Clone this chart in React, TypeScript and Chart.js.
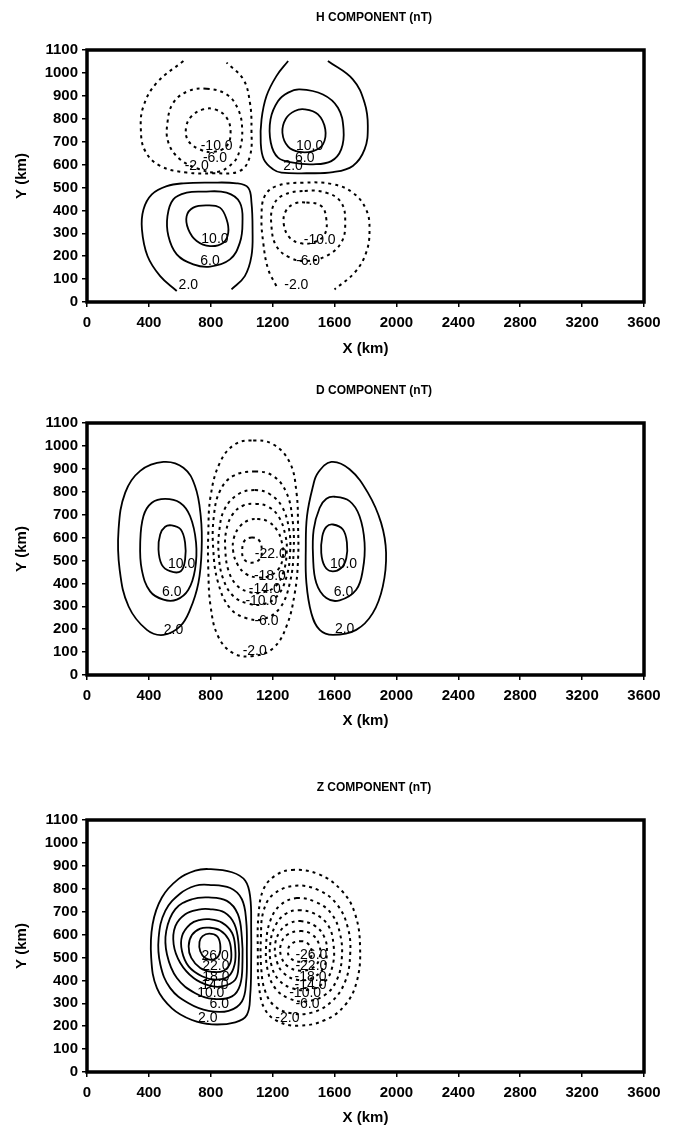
import { useEffect, useRef } from 'react';
import { Chart, registerables } from 'chart.js';

Chart.register(...registerables);

type Pt = [number, number];

interface Contour {
  level: number;
  pts: Pt[];
  closed: boolean;
  label: Pt;
}

// Axis ticks (km)
const X_TICKS = [0, 400, 800, 1200, 1600, 2000, 2400, 2800, 3200, 3600];
const Y_TICKS = [0, 100, 200, 300, 400, 500, 600, 700, 800, 900, 1000, 1100];

// ---------- H component ----------
// upper-left negative cell
const hUL_n2: Pt[] = [[623, 1052], [451, 957], [365, 855], [348, 754], [376, 659], [473, 594], [644, 565], [816, 562], [988, 572], [1053, 637], [1063, 754], [1053, 870], [1010, 972], [902, 1045]];
const hUL_n6: Pt[] = [[773, 931], [902, 906], [977, 841], [1003, 754], [988, 666], [945, 608], [838, 567], [730, 579], [601, 623], [526, 696], [520, 783], [558, 870], [655, 921]];
const hUL_n10: Pt[] = [[827, 841], [902, 805], [928, 739], [902, 681], [816, 655], [730, 666], [655, 703], [640, 761], [677, 812], [752, 841]];
// upper-right positive cell
const hUR_p2: Pt[] = [[1300, 1052], [1224, 986], [1160, 899], [1128, 797], [1123, 695], [1143, 623], [1203, 579], [1257, 565], [1418, 562], [1590, 567], [1718, 594], [1794, 666], [1815, 768], [1794, 870], [1718, 972], [1557, 1052]];
const hUR_p6: Pt[] = [[1375, 928], [1525, 906], [1622, 848], [1658, 754], [1643, 666], [1579, 615], [1461, 601], [1332, 608], [1235, 630], [1188, 695], [1186, 797], [1235, 877], [1300, 914]];
const hUR_p10: Pt[] = [[1407, 841], [1493, 819], [1540, 754], [1525, 688], [1461, 659], [1375, 655], [1300, 678], [1263, 739], [1285, 800], [1343, 834]];
// lower-left positive cell
const hLL_p2: Pt[] = [[580, 48], [473, 113], [391, 201], [355, 317], [365, 404], [419, 470], [516, 506], [623, 518], [795, 521], [967, 518], [1042, 499], [1063, 434], [1070, 317], [1063, 201], [1020, 113], [934, 55]];
const hLL_p6: Pt[] = [[752, 482], [902, 477], [988, 434], [1005, 346], [988, 259], [924, 186], [795, 154], [687, 164], [580, 208], [526, 288], [520, 375], [558, 448], [644, 477]];
const hLL_p10: Pt[] = [[773, 422], [859, 412], [902, 361], [913, 303], [881, 259], [795, 244], [709, 266], [655, 317], [644, 375], [687, 412]];
// lower-right negative cell
const hLR_n2: Pt[] = [[1224, 70], [1171, 143], [1139, 259], [1128, 375], [1149, 463], [1224, 506], [1396, 521], [1590, 514], [1718, 477], [1804, 404], [1826, 317], [1804, 215], [1729, 128], [1600, 55]];
const hLR_n6: Pt[] = [[1407, 485], [1547, 477], [1643, 434], [1669, 346], [1643, 259], [1547, 201], [1418, 179], [1310, 194], [1224, 244], [1192, 332], [1203, 419], [1267, 466]];
const hLR_n10: Pt[] = [[1418, 434], [1514, 419], [1547, 361], [1536, 295], [1471, 262], [1385, 256], [1310, 281], [1272, 339], [1285, 397], [1343, 430]];

// ---------- D component ----------
// left positive cell
const dL_p2: Pt[] = [[494, 930], [623, 905], [698, 825], [735, 694], [741, 548], [720, 402], [666, 285], [601, 212], [494, 175], [387, 197], [269, 299], [211, 460], [204, 635], [247, 796], [344, 891]];
const dL_p6: Pt[] = [[505, 769], [601, 752], [666, 694], [705, 577], [698, 460], [655, 372], [580, 329], [494, 329], [408, 365], [354, 460], [344, 577], [365, 694], [419, 752]];
const dL_p10: Pt[] = [[548, 653], [606, 635], [634, 577], [634, 504], [606, 453], [537, 453], [483, 482], [462, 548], [473, 613], [505, 647]];
// right positive cell
const dR_p2: Pt[] = [[1579, 930], [1697, 898], [1815, 796], [1901, 664], [1933, 533], [1912, 387], [1847, 270], [1740, 197], [1590, 175], [1504, 197], [1450, 270], [1418, 402], [1414, 548], [1422, 694], [1461, 825], [1493, 883]];
const dR_p6: Pt[] = [[1600, 778], [1697, 759], [1761, 694], [1794, 577], [1783, 460], [1740, 372], [1633, 326], [1547, 336], [1482, 402], [1461, 518], [1465, 635], [1504, 730], [1547, 769]];
const dR_p10: Pt[] = [[1590, 657], [1654, 635], [1680, 577], [1676, 511], [1643, 467], [1579, 453], [1536, 475], [1514, 533], [1521, 606], [1547, 647]];
// central negative cell
const dM_n2: Pt[] = [[1074, 1024], [1203, 1007], [1311, 927], [1354, 796], [1364, 650], [1364, 504], [1343, 358], [1289, 212], [1203, 117], [1074, 83], [945, 95], [848, 168], [799, 299], [784, 460], [784, 621], [799, 781], [859, 927], [956, 1007]];
const dM_n6: Pt[] = [[1085, 888], [1203, 869], [1289, 796], [1328, 679], [1336, 548], [1311, 402], [1246, 292], [1139, 244], [1031, 248], [924, 292], [848, 402], [816, 548], [820, 694], [859, 803], [945, 869]];
const dM_n10: Pt[] = [[1085, 807], [1180, 790], [1260, 735], [1305, 640], [1313, 540], [1290, 430], [1230, 345], [1140, 309], [1040, 312], [945, 345], [880, 420], [852, 520], [855, 630], [890, 725], [980, 790]];
const dM_n14: Pt[] = [[1090, 747], [1170, 735], [1240, 690], [1282, 610], [1291, 540], [1270, 450], [1215, 385], [1130, 360], [1050, 362], [970, 390], [915, 455], [894, 545], [900, 630], [940, 700], [1010, 740]];
const dM_n18: Pt[] = [[1100, 681], [1170, 670], [1230, 630], [1262, 570], [1265, 510], [1235, 460], [1170, 430], [1100, 426], [1030, 440], [975, 480], [945, 540], [950, 600], [990, 650], [1045, 676]];
const dM_n22: Pt[] = [[1065, 600], [1110, 590], [1130, 545], [1115, 505], [1065, 490], [1015, 505], [1003, 545], [1020, 588]];

// ---------- Z component ----------
// positive cell
const zP_2: Pt[] = [[786, 886], [937, 872], [1023, 835], [1055, 762], [1061, 630], [1061, 483], [1055, 337], [1033, 249], [958, 217], [807, 208], [678, 227], [549, 278], [452, 366], [415, 498], [424, 645], [484, 762], [592, 843], [700, 879]];
const zP_6: Pt[] = [[786, 817], [926, 803], [1001, 754], [1029, 659], [1033, 527], [1029, 396], [1001, 308], [915, 267], [786, 267], [657, 300], [538, 366], [474, 469], [463, 586], [506, 703], [603, 779], [700, 813]];
const zP_10: Pt[] = [[786, 762], [904, 747], [975, 689], [1001, 586], [1005, 483], [990, 381], [937, 330], [818, 319], [700, 344], [581, 410], [517, 513], [512, 615], [571, 711], [678, 754]];
const zP_14: Pt[] = [[790, 711], [889, 696], [953, 645], [980, 557], [980, 469], [958, 403], [872, 374], [786, 378], [689, 410], [603, 476], [560, 557], [571, 637], [635, 689], [721, 709]];
const zP_18: Pt[] = [[790, 667], [872, 652], [937, 608], [958, 542], [954, 469], [915, 418], [829, 403], [743, 418], [657, 461], [614, 527], [614, 593], [667, 645], [732, 664]];
const zP_22: Pt[] = [[790, 630], [861, 618], [915, 579], [932, 527], [926, 476], [883, 442], [807, 437], [732, 454], [674, 498], [657, 549], [678, 598], [732, 626]];
const zP_26: Pt[] = [[790, 604], [840, 593], [861, 557], [855, 513], [818, 491], [764, 498], [732, 527], [727, 568], [747, 593]];
// negative cell
const zN_2: Pt[] = [[1324, 882], [1496, 864], [1647, 791], [1733, 689], [1765, 542], [1744, 396], [1669, 293], [1539, 227], [1367, 202], [1238, 220], [1152, 271], [1113, 366], [1104, 527], [1109, 689], [1141, 798], [1216, 857]];
const zN_6: Pt[] = [[1346, 813], [1496, 794], [1615, 732], [1686, 630], [1701, 513], [1669, 396], [1582, 308], [1453, 259], [1324, 256], [1216, 286], [1152, 352], [1126, 454], [1124, 586], [1141, 703], [1206, 776]];
const zN_10: Pt[] = [[1356, 759], [1485, 740], [1582, 689], [1636, 601], [1647, 498], [1615, 403], [1539, 337], [1410, 308], [1303, 322], [1216, 366], [1167, 447], [1158, 557], [1184, 659], [1249, 728]];
const zN_14: Pt[] = [[1367, 706], [1475, 689], [1561, 637], [1593, 557], [1589, 469], [1539, 396], [1432, 359], [1324, 366], [1238, 403], [1191, 469], [1184, 557], [1216, 637], [1281, 689]];
const zN_18: Pt[] = [[1378, 659], [1475, 637], [1536, 586], [1550, 520], [1528, 454], [1453, 410], [1356, 403], [1270, 432], [1227, 483], [1216, 557], [1249, 615], [1303, 647]];
const zN_22: Pt[] = [[1378, 615], [1453, 601], [1500, 557], [1503, 498], [1464, 457], [1378, 442], [1298, 461], [1255, 505], [1253, 557], [1292, 598]];
const zN_26: Pt[] = [[1378, 571], [1427, 561], [1453, 527], [1438, 494], [1378, 481], [1320, 494], [1298, 527], [1320, 559]];

const H_CONTOURS: Contour[] = [
  { level: -2, pts: hUL_n2, closed: false, label: [709, 594] },
  { level: -6, pts: hUL_n6, closed: true, label: [827, 626] },
  { level: -10, pts: hUL_n10, closed: true, label: [838, 681] },
  { level: 2, pts: hUR_p2, closed: false, label: [1332, 594] },
  { level: 6, pts: hUR_p6, closed: true, label: [1407, 630] },
  { level: 10, pts: hUR_p10, closed: true, label: [1439, 681] },
  { level: 2, pts: hLL_p2, closed: false, label: [655, 73] },
  { level: 6, pts: hLL_p6, closed: true, label: [795, 179] },
  { level: 10, pts: hLL_p10, closed: true, label: [827, 274] },
  { level: -2, pts: hLR_n2, closed: false, label: [1353, 73] },
  { level: -6, pts: hLR_n6, closed: true, label: [1429, 179] },
  { level: -10, pts: hLR_n10, closed: true, label: [1504, 271] },
];

const D_CONTOURS: Contour[] = [
  { level: 2, pts: dL_p2, closed: true, label: [559, 197] },
  { level: 6, pts: dL_p6, closed: true, label: [548, 361] },
  { level: 10, pts: dL_p10, closed: true, label: [612, 482] },
  { level: 2, pts: dR_p2, closed: true, label: [1665, 200] },
  { level: 6, pts: dR_p6, closed: true, label: [1658, 361] },
  { level: 10, pts: dR_p10, closed: true, label: [1658, 482] },
  { level: -2, pts: dM_n2, closed: true, label: [1084, 105] },
  { level: -6, pts: dM_n6, closed: true, label: [1160, 236] },
  { level: -10, pts: dM_n10, closed: true, label: [1127, 324] },
  { level: -14, pts: dM_n14, closed: true, label: [1149, 375] },
  { level: -18, pts: dM_n18, closed: true, label: [1182, 433] },
  { level: -22, pts: dM_n22, closed: true, label: [1188, 527] },
];

const Z_CONTOURS: Contour[] = [
  { level: 2, pts: zP_2, closed: true, label: [780, 234] },
  { level: 6, pts: zP_6, closed: true, label: [855, 295] },
  { level: 10, pts: zP_10, closed: true, label: [800, 344] },
  { level: 14, pts: zP_14, closed: true, label: [827, 381] },
  { level: 18, pts: zP_18, closed: true, label: [833, 414] },
  { level: 22, pts: zP_22, closed: true, label: [833, 460] },
  { level: 26, pts: zP_26, closed: true, label: [828, 505] },
  { level: -2, pts: zN_2, closed: true, label: [1295, 235] },
  { level: -6, pts: zN_6, closed: true, label: [1425, 295] },
  { level: -10, pts: zN_10, closed: true, label: [1410, 343] },
  { level: -14, pts: zN_14, closed: true, label: [1445, 380] },
  { level: -18, pts: zN_18, closed: true, label: [1445, 415] },
  { level: -22, pts: zN_22, closed: true, label: [1450, 460] },
  { level: -26, pts: zN_26, closed: true, label: [1450, 510] },
];

const FONT_FAMILY = '"Liberation Sans", Arial, Helvetica, sans-serif';
const WIDTH = 676;
const PLOT_LEFT = 87;
const PLOT_RIGHT = 644;
const TITLE_X = 374;

// Closed rings get one wrap-around point on each end so the spline is smooth
// through the seam; the two wrap segments are drawn transparent.
function toDataset(c: Contour) {
  const n = c.pts.length;
  const seq: Pt[] = c.closed ? [c.pts[n - 1], ...c.pts, c.pts[0], c.pts[1]] : c.pts;
  const last = seq.length - 1;
  const negative = c.level < 0;
  return {
    data: seq.map(([x, y]) => ({ x, y })),
    showLine: true,
    fill: false,
    borderColor: '#000',
    borderWidth: negative ? 2 : 1.8,
    borderDash: negative ? [3, 4] : [],
    pointRadius: 0,
    pointHoverRadius: 0,
    tension: 0.4,
    segment: c.closed
      ? {
          borderColor: (ctx: any) =>
            ctx.p0DataIndex === 0 || ctx.p1DataIndex === last ? 'rgba(0,0,0,0)' : undefined,
        }
      : undefined,
  };
}

interface PanelProps {
  top: number;
  height: number;
  plotTop: number;
  plotBottom: number;
  title: string;
  contours: Contour[];
}

function Panel({ top, height, plotTop, plotBottom, title, contours }: PanelProps) {
  const ref = useRef<HTMLCanvasElement | null>(null);

  useEffect(() => {
    if (!ref.current) return;
    const xScaleHeight = height - plotBottom;

    const framePlugin = {
      id: 'frame',
      afterDatasetsDraw(chart: any) {
        const { ctx, chartArea: a } = chart;
        ctx.save();
        ctx.strokeStyle = '#000';
        ctx.lineWidth = 3.5;
        ctx.strokeRect(a.left, a.top, a.right - a.left, a.bottom - a.top);
        ctx.restore();
      },
    };

    const labelPlugin = {
      id: 'contourLabels',
      afterDatasetsDraw(chart: any) {
        const { ctx, scales } = chart;
        ctx.save();
        ctx.fillStyle = '#000';
        ctx.font = `14px ${FONT_FAMILY}`;
        ctx.textAlign = 'center';
        ctx.textBaseline = 'middle';
        contours.forEach((c) => {
          const px = scales.x.getPixelForValue(c.label[0]);
          const py = scales.y.getPixelForValue(c.label[1]);
          ctx.fillText(c.level.toFixed(1), px, py);
        });
        ctx.restore();
      },
    };

    const titlePlugin = {
      id: 'panelTitle',
      afterDraw(chart: any) {
        const { ctx, chartArea } = chart;
        ctx.save();
        ctx.fillStyle = '#000';
        ctx.font = `bold 12px ${FONT_FAMILY}`;
        ctx.textAlign = 'center';
        ctx.textBaseline = 'middle';
        ctx.fillText(title, TITLE_X, chartArea.top - 32);
        ctx.restore();
      },
    };

    const tickFont = { family: FONT_FAMILY, size: 15, weight: 'bold' as const };
    const titleFont = { family: FONT_FAMILY, size: 15, weight: 'bold' as const };
    const grid = {
      drawOnChartArea: false,
      drawTicks: true,
      tickLength: 5,
      color: '#000',
      lineWidth: 1.5,
    };

    const chart = new Chart(ref.current, {
      type: 'scatter',
      data: { datasets: contours.map(toDataset) as any },
      options: {
        responsive: false,
        maintainAspectRatio: false,
        animation: false,
        devicePixelRatio: 1,
        events: [],
        layout: { padding: { top: plotTop, right: WIDTH - PLOT_RIGHT, left: 0, bottom: 0 } },
        plugins: {
          legend: { display: false },
          tooltip: { enabled: false },
        },
        scales: {
          x: {
            type: 'linear',
            min: X_TICKS[0],
            max: X_TICKS[X_TICKS.length - 1],
            afterBuildTicks: (s: any) => {
              s.ticks = X_TICKS.map((v) => ({ value: v }));
            },
            afterFit: (s: any) => {
              s.height = xScaleHeight;
            },
            ticks: {
              color: '#000',
              font: tickFont,
              padding: 7,
              maxRotation: 0,
              autoSkip: false,
              callback: (v: any) => String(v),
            },
            grid,
            border: { display: false },
            title: {
              display: true,
              text: 'X (km)',
              color: '#000',
              font: titleFont,
              padding: { top: 0, bottom: 2 },
            },
          },
          y: {
            type: 'linear',
            min: Y_TICKS[0],
            max: Y_TICKS[Y_TICKS.length - 1],
            afterBuildTicks: (s: any) => {
              s.ticks = Y_TICKS.map((v) => ({ value: v }));
            },
            afterFit: (s: any) => {
              s.width = PLOT_LEFT;
            },
            ticks: {
              color: '#000',
              font: tickFont,
              padding: 4,
              autoSkip: false,
              callback: (v: any) => String(v),
            },
            grid,
            border: { display: false },
            title: {
              display: true,
              text: 'Y (km)',
              color: '#000',
              font: titleFont,
              padding: { top: 13, bottom: 0 },
            },
          },
        },
      } as any,
      plugins: [framePlugin, labelPlugin, titlePlugin],
    });

    return () => chart.destroy();
  }, [top, height, plotTop, plotBottom, title, contours]);

  return (
    <canvas
      ref={ref}
      width={WIDTH}
      height={height}
      style={{ position: 'absolute', left: 0, top, width: WIDTH, height }}
    />
  );
}

export default function App() {
  return (
    <div
      style={{
        position: 'absolute',
        left: 0,
        top: 0,
        width: WIDTH,
        height: 1129,
        background: '#fff',
        overflow: 'hidden',
      }}
    >
      <Panel top={0} height={360} plotTop={50} plotBottom={302} title="H COMPONENT (nT)" contours={H_CONTOURS} />
      <Panel top={372} height={360} plotTop={51} plotBottom={303} title="D COMPONENT (nT)" contours={D_CONTOURS} />
      <Panel top={770} height={359} plotTop={50} plotBottom={302} title="Z COMPONENT (nT)" contours={Z_CONTOURS} />
    </div>
  );
}
